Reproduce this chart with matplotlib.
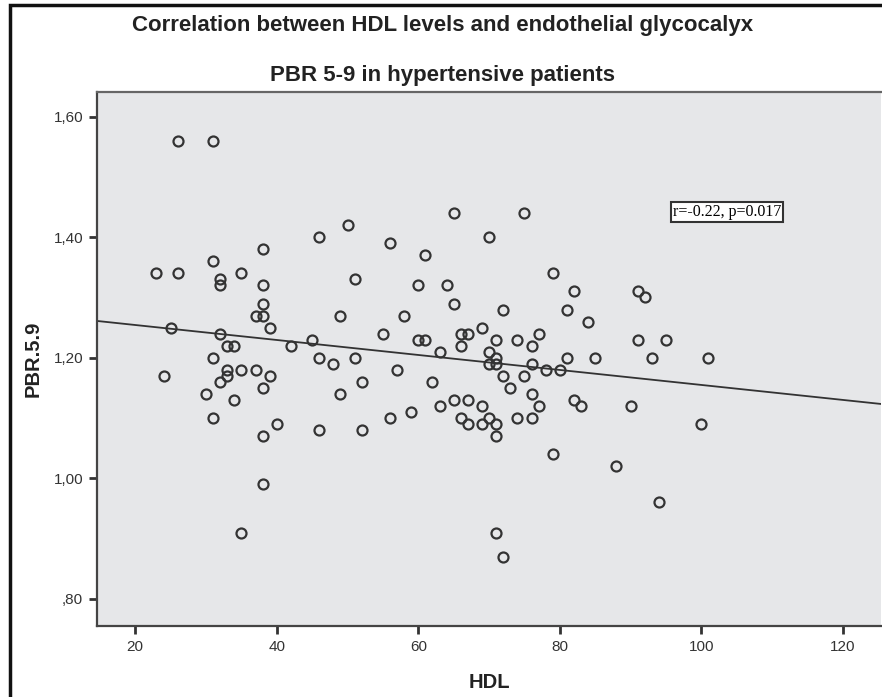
import numpy as np
import matplotlib
matplotlib.use("Agg")
import matplotlib.pyplot as plt
from matplotlib.patches import Rectangle
from matplotlib.ticker import FuncFormatter

# HDL vs PBR 5-9 readings
hdl = [26, 31, 50, 46, 56, 38, 31, 23, 26, 35, 32, 32, 38, 51, 38, 37, 38, 49, 39, 25,
       32, 45, 55, 33, 34, 42, 31, 46, 48, 51, 24, 33, 35, 37, 33, 39, 32, 38, 52, 30,
       49, 34, 56, 31, 40, 46, 52, 38, 38, 35,
       65, 75, 70, 61, 79, 60, 64, 82, 65, 91, 92, 58, 72, 81, 84, 60, 61, 66, 67, 69,
       71, 74, 77, 91, 95, 66, 76, 63, 70, 71, 71, 70, 76, 81, 85, 93, 57, 78, 80, 62,
       72, 75, 73, 76, 65, 67, 82, 63, 69, 77, 83, 90, 59, 66, 70, 74, 76, 67, 69, 71,
       71, 79, 88, 94, 71, 72, 101, 100]
pbr = [1.56, 1.56, 1.42, 1.40, 1.39, 1.38, 1.36, 1.34, 1.34, 1.34, 1.33, 1.32, 1.32, 1.33,
       1.29, 1.27, 1.27, 1.27, 1.25, 1.25, 1.24, 1.23, 1.24, 1.22, 1.22, 1.22, 1.20, 1.20,
       1.19, 1.20, 1.17, 1.18, 1.18, 1.18, 1.17, 1.17, 1.16, 1.15, 1.16, 1.14, 1.14, 1.13,
       1.10, 1.10, 1.09, 1.08, 1.08, 1.07, 0.99, 0.91,
       1.44, 1.44, 1.40, 1.37, 1.34, 1.32, 1.32, 1.31, 1.29, 1.31, 1.30, 1.27, 1.28, 1.28,
       1.26, 1.23, 1.23, 1.24, 1.24, 1.25, 1.23, 1.23, 1.24, 1.23, 1.23, 1.22, 1.22, 1.21,
       1.21, 1.20, 1.19, 1.19, 1.19, 1.20, 1.20, 1.20, 1.18, 1.18, 1.18, 1.16, 1.17, 1.17,
       1.15, 1.14, 1.13, 1.13, 1.13, 1.12, 1.12, 1.12, 1.12, 1.12, 1.11, 1.10, 1.10, 1.10,
       1.10, 1.09, 1.09, 1.09, 1.07, 1.04, 1.02, 0.96, 0.91, 0.87, 1.20, 1.09]

x_ticks = [20, 40, 60, 80, 100, 120]
y_ticks = [0.80, 1.00, 1.20, 1.40, 1.60]
stat_text = "r=-0.22, p=0.017"

plt.rcParams['font.family'] = ['Liberation Sans', 'DejaVu Sans']

fig = plt.figure(figsize=(8.82, 6.97), dpi=100)
ax = fig.add_axes([0.110, 0.102, 0.889, 0.766])
ax.set_facecolor('#e6e7e9')

ax.plot(hdl, pbr, 'o', mfc='none', mec='#333333', mew=1.6, ms=7.2, linestyle='none', zorder=3)

# linear fit line across the whole axis
xlim = (14.6, 125.4)
slope, icpt = np.polyfit(hdl, pbr, 1)
xs = np.array(xlim)
ax.plot(xs, icpt + slope * xs, color='#333333', lw=1.3, zorder=2)

ax.set_xlim(*xlim)
ax.set_ylim(0.755, 1.641)
ax.set_xticks(x_ticks)
ax.set_yticks(y_ticks)
ax.yaxis.set_major_formatter(FuncFormatter(lambda v, p: ('%.2f' % v).replace('0.', '.').replace('.', ',')))
ax.tick_params(direction='out', length=6, width=2, color='#333333', labelsize=11, labelcolor='#333333', pad=4)

for s in ax.spines.values():
    s.set_color('#444444')
    s.set_linewidth(1.6)
ax.spines['top'].set_color('#666666')
ax.spines['right'].set_visible(False)

ax.text(96.0, 1.442, stat_text, family=['Liberation Serif', 'DejaVu Serif'], fontsize=11.5, va='center', ha='left',
        bbox=dict(boxstyle='square,pad=0.1', fc='white', ec='#333333', lw=1.5), zorder=4)

ax.set_xlabel('HDL', fontsize=14.5, fontweight='bold', color='#222222', labelpad=14)
ax.set_ylabel('PBR.5.9', fontsize=14.5, fontweight='bold', color='#222222', labelpad=8)

fig.text(0.502, 0.963, 'Correlation between HDL levels and endothelial glycocalyx',
         ha='center', va='center', fontsize=16, fontweight='bold', color='#222222')
fig.text(0.502, 0.892, 'PBR 5-9 in hypertensive patients',
         ha='center', va='center', fontsize=16, fontweight='bold', color='#222222')

# outer frame of the chart image
fig.patches.append(Rectangle((10 / 882, -0.05), 1.0, 1.05 - 5 / 697, transform=fig.transFigure,
                             fill=False, ec='#111111', lw=2.5))

fig.savefig('out.png', dpi=100)
